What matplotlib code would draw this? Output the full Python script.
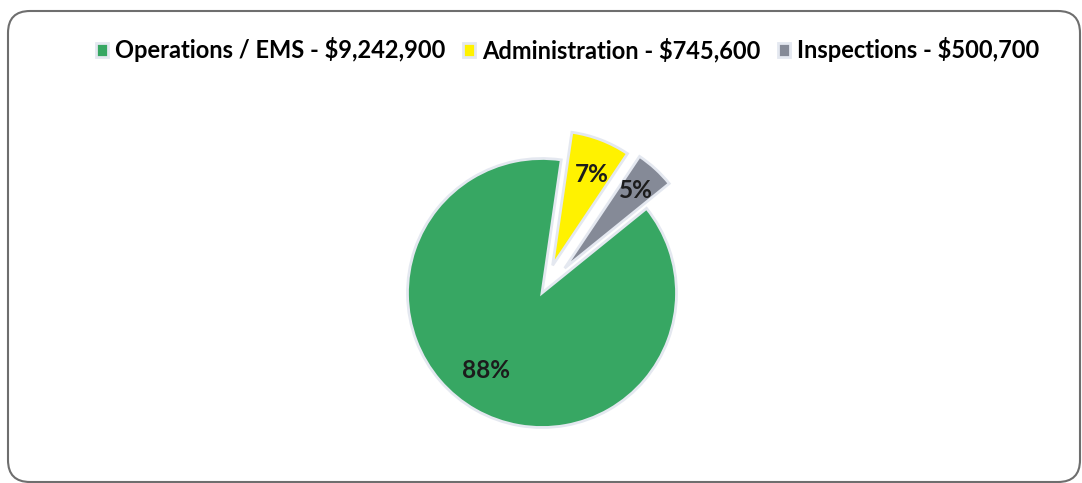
import matplotlib
matplotlib.use("Agg")
import matplotlib.pyplot as plt
from matplotlib.patches import FancyBboxPatch

# Budget by division
divisions = ["Operations / EMS", "Administration", "Inspections"]
amounts = [9242900, 745600, 500700]
colors = ["#37a763", "#fff200", "#858a97"]
explode_frac = [0.0, 0.22, 0.25]

plt.rcParams["font.family"] = ["Lato", "DejaVu Sans"]

W, H = 1082, 483
fig = plt.figure(figsize=(W / 100, H / 100), dpi=100)
ax = fig.add_axes([0, 0, 1, 1])

cx, cy, r = 542, H - 293, 134.5
wedges, texts, autotexts = ax.pie(
    amounts,
    colors=colors,
    explode=[e * r for e in explode_frac],   # pie offsets in data units
    startangle=39,
    counterclock=False,
    center=(cx, cy),
    radius=r,
    autopct=lambda p: f"{p:.0f}%",
    pctdistance=0.74,
    wedgeprops=dict(edgecolor="#e4e8f0", linewidth=2),
    textprops=dict(fontsize=17.5, fontweight="bold", color="#1c1c1c"),
)
# keep the big slice's label low and to the left
autotexts[0].set_position((486, H - 370))
autotexts[1].set_position((592, H - 175))
autotexts[2].set_position((636, H - 190))

ax.set_xlim(0, W)
ax.set_ylim(0, H)
ax.set_aspect("equal")
ax.axis("off")

# rounded chart border
frame = FancyBboxPatch((8, 1), 1072, 471,
                       boxstyle="round,pad=0,rounding_size=22",
                       facecolor="none", edgecolor="#6e6e6e", linewidth=1.5)
ax.add_patch(frame)

labels = [f"{d} - ${a:,}" for d, a in zip(divisions, amounts)]
fig.legend(wedges, labels, loc="center", bbox_to_anchor=(568 / W, 1 - 50 / H),
           ncol=3, frameon=False, handlelength=0.5, handleheight=0.5,
           handletextpad=0.3, columnspacing=0.75,
           prop=dict(family=["Lato", "DejaVu Sans"], weight="bold", size=17.0))

fig.savefig("out.png", dpi=100)
